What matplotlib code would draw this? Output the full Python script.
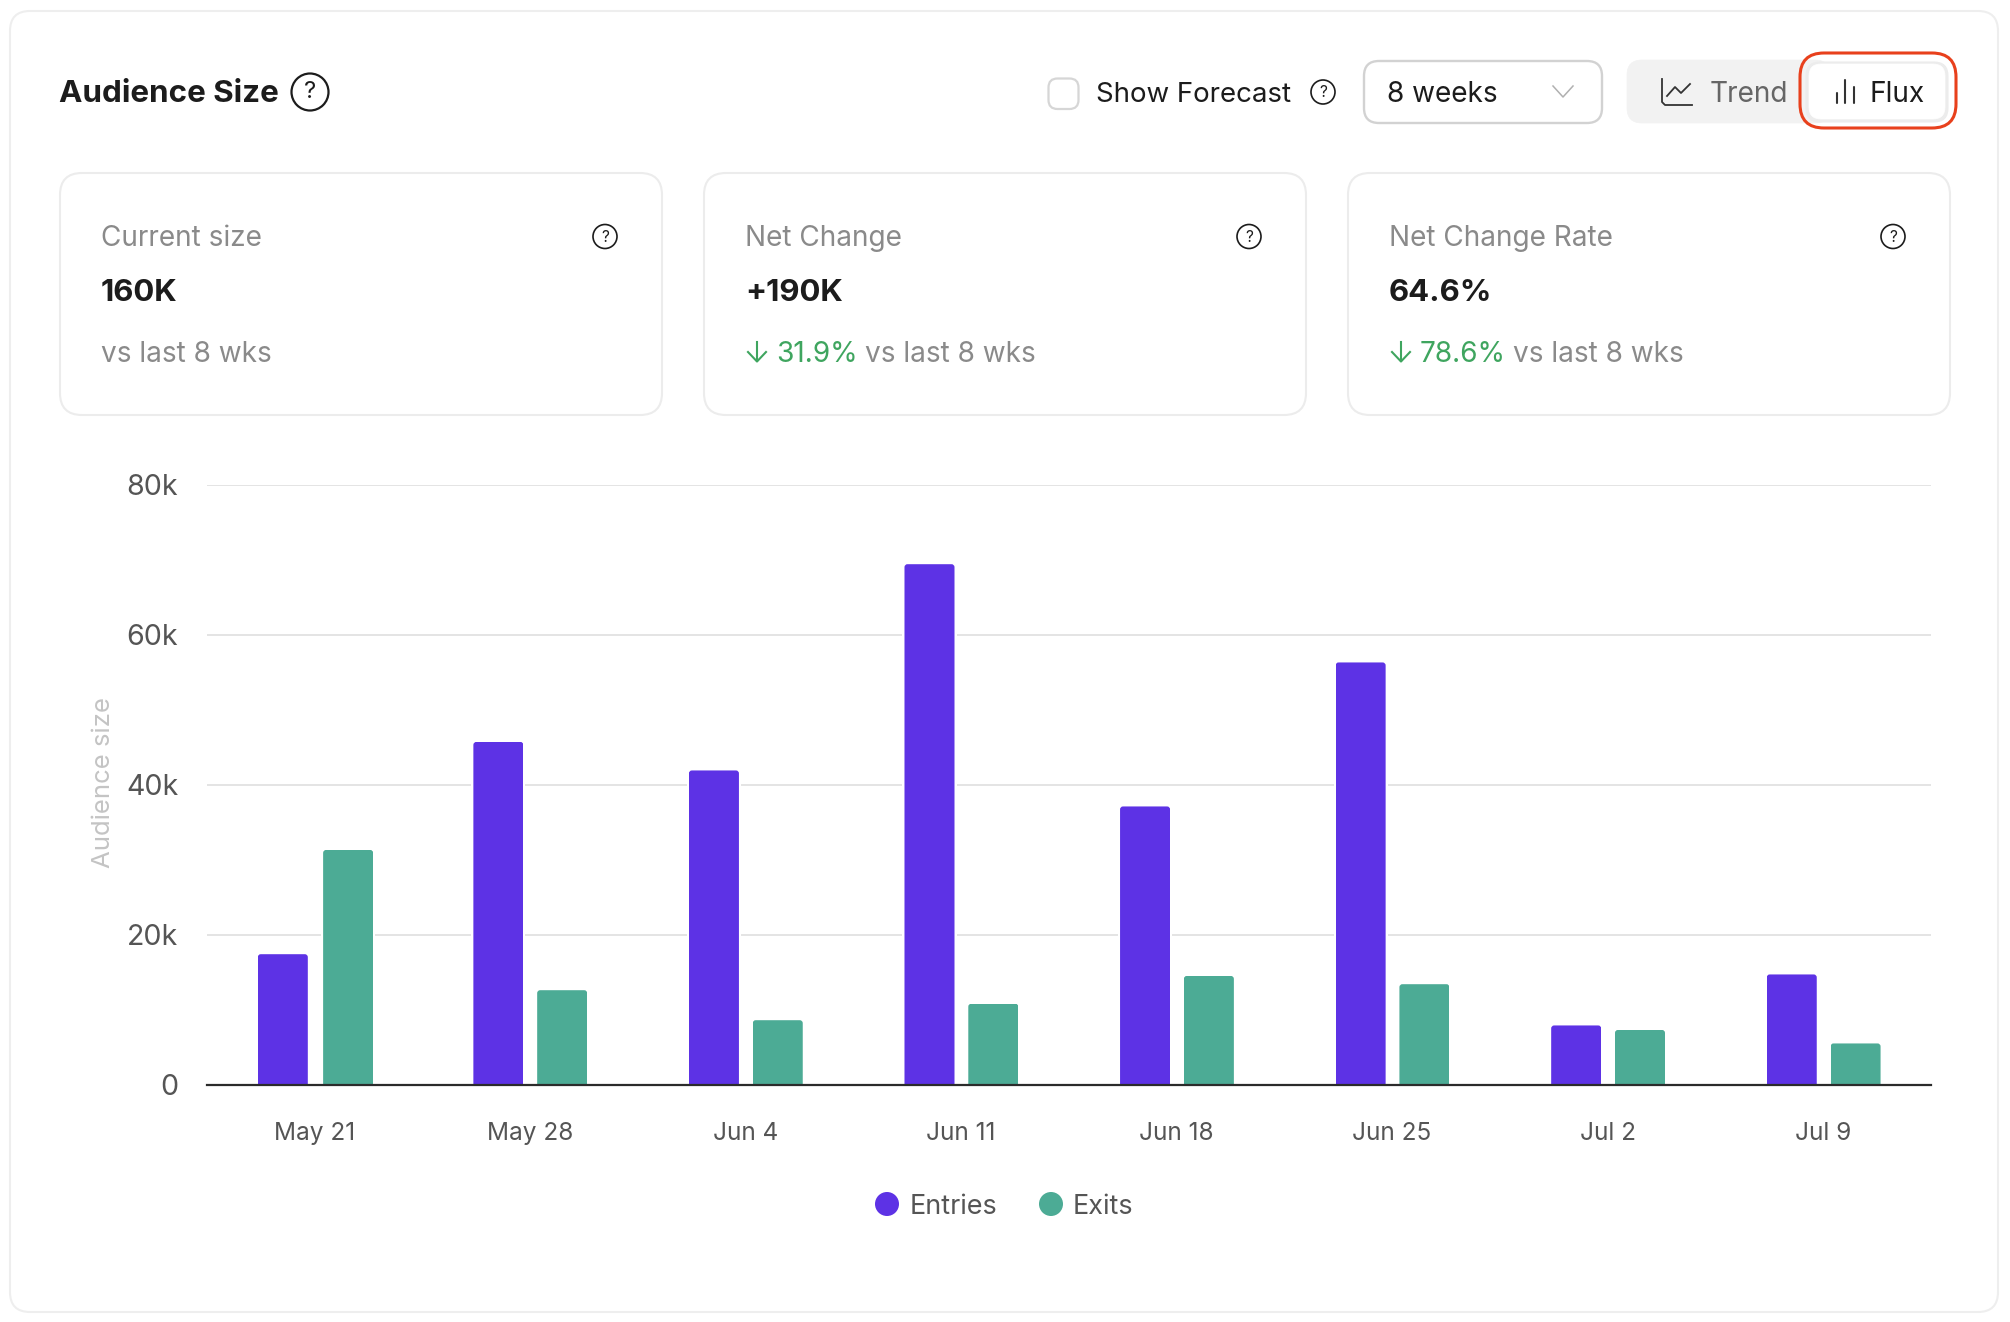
import numpy as np
import matplotlib
matplotlib.use("Agg")
import matplotlib.pyplot as plt
from matplotlib.patches import FancyBboxPatch, Circle
from matplotlib.transforms import IdentityTransform

plt.rcParams['font.family'] = ['Inter', 'DejaVu Sans']

W, H = 2010, 1322

weeks = ['May 21', 'May 28', 'Jun 4', 'Jun 11', 'Jun 18', 'Jun 25', 'Jul 2', 'Jul 9']
entries = [17.4, 45.7, 41.9, 69.4, 37.1, 56.3, 7.9, 14.7]
exits = [31.3, 12.6, 8.6, 10.8, 14.5, 13.4, 7.3, 5.5]
y_ticks = [0, 20, 40, 60, 80]
y_labels = ['0', '20k', '40k', '60k', '80k']

card_titles = ['Current size', 'Net Change', 'Net Change Rate']
card_values = ['160K', '+190K', '64.6%']
card_deltas = ['', '31.9%', '78.6%']

PURPLE = '#5d32e5'
TEAL = '#4cab95'
DARK = '#1c1c1c'
GREY = '#8a8a8a'
MID = '#555555'
GREEN = '#3fa55f'
BORDER = '#ececec'


def px(v):
    # font size in points for a size in pixels
    return v * 72 / 100


fig = plt.figure(figsize=(W / 100, H / 100), dpi=100, facecolor='white')

ui = fig.add_axes([0, 0, 1, 1])
ui.set_xlim(0, W)
ui.set_ylim(H, 0)
ui.axis('off')


def box(x0, y0, x1, y1, r, fc='white', ec=BORDER, lw=1.5, z=1):
    p = FancyBboxPatch((x0 + r, y0 + r), x1 - x0 - 2 * r, y1 - y0 - 2 * r,
                       boxstyle='round,pad=%s,rounding_size=%s' % (r, r),
                       fc=fc, ec=ec, lw=lw, zorder=z)
    ui.add_patch(p)
    return p


def help_icon(x, y, r, lw=1.4):
    ui.add_patch(Circle((x, y), r, fc='white', ec=DARK, lw=lw, zorder=3))
    ui.text(x, y + 0.5, '?', ha='center', va='center', fontsize=px(r * 1.3),
            color=DARK, zorder=4)


def label(x, y, s, size, color=DARK, weight='normal', z=3):
    return ui.text(x, y, s, fontsize=px(size), color=color, fontweight=weight,
                   va='baseline', zorder=z)


# outer card and header
box(10, 11, 1998, 1312, 20, ec='#eeeeee')
label(59, 102, 'Audience Size', 31.4, weight='bold')
help_icon(310, 92, 18.5, lw=1.6)

# header controls
box(1048.5, 78.5, 1078.5, 109, 9, ec='#d6d6d6', lw=1.6)
label(1096, 102, 'Show Forecast', 27.7)
help_icon(1323, 92, 12, lw=1.2)
box(1364, 61, 1602, 123, 15, ec='#d2d2d2', lw=1.7)
label(1387, 102, '8 weeks', 28)
ui.plot([1553, 1563, 1573], [86, 97, 86], color='#b0b0b0', lw=1.1)

box(1627, 60, 1830, 123, 15, fc='#f2f2f2', ec='#f2f2f2', lw=0.5)
ui.plot([1662, 1662, 1665, 1692], [79, 102, 105, 105], color='#333333', lw=1.3)
ui.plot([1667, 1675, 1681, 1690], [96, 87, 93, 84], color='#333333', lw=1.3)
label(1710, 102, 'Trend', 28, color='#666666')

box(1806, 62, 1948, 122, 14, fc='#ececec', ec='#ececec', lw=0.8, z=2)
box(1809, 64, 1945, 119, 12, fc='white', ec='white', lw=0.5, z=2)
for bx, top in zip([1837, 1845, 1854], [93, 80, 87]):
    ui.plot([bx, bx], [top, 103], color='#333333', lw=1.5, zorder=3,
            solid_capstyle='round')
label(1870, 102, 'Flux', 28)
box(1800, 53, 1956, 128, 24, fc='none', ec='#e8401c', lw=2.2, z=4)

# summary cards
fig.canvas.draw()
for i, x0 in enumerate([60, 704, 1348]):
    box(x0, 173, x0 + 602, 415, 22)
    label(x0 + 41, 246, card_titles[i], 28, color=GREY)
    label(x0 + 41, 301, card_values[i], 31.2, weight='bold')
    help_icon(x0 + 545, 236.5, 12, lw=1.2)
    if card_deltas[i]:
        a = x0 + 53
        ui.plot([a, a], [342, 361], color=GREEN, lw=1.5, zorder=3)
        ui.plot([a - 9, a, a + 9], [352, 361.5, 352], color=GREEN, lw=1.5, zorder=3)
        t = label(x0 + 72, 362, card_deltas[i], 28, color=GREEN)
        # the comparison text follows the green figure, whatever its width
        right = t.get_window_extent(fig.canvas.get_renderer()).x1
        label(right + 7, 362, 'vs last 8 wks', 28, color=GREY)
    else:
        label(x0 + 41, 362, 'vs last 8 wks', 28, color=GREY)

# bar chart
L, R, T, B = 206.5, 1931, 484.7, 1084.7
ax = fig.add_axes([L / W, 1 - B / H, (R - L) / W, (B - T) / H])
ax.patch.set_alpha(0)
xs = np.arange(len(weeks))
bar_w = 0.232
off = 0.148
halo = 0.0186
entry_x = xs - off + 0.002
exit_x = xs + off + 0.002
exit_x[0] += 0.007

# white slots behind the bars break the gridlines around them
ax.bar(entry_x, entries, bar_w + halo, color='white', zorder=2)
ax.bar(exit_x, exits, bar_w + halo, color='white', zorder=2)
entry_bars = ax.bar(entry_x, entries, bar_w, color=PURPLE, zorder=3)
exit_bars = ax.bar(exit_x, exits, bar_w, color=TEAL, zorder=3)

ax.set_xlim(-0.5, len(weeks) - 0.5)
ax.set_ylim(0, 80)
ax.set_xticks(xs, weeks)
ax.set_yticks(y_ticks, y_labels)
ax.tick_params(axis='x', length=0, pad=27, labelsize=px(24.4), labelcolor=MID)
ax.tick_params(axis='y', length=0, pad=20.4, labelsize=px(28.6), labelcolor=MID)
ax.grid(axis='y', color='#e2e2e2', lw=1.3, zorder=0)
ax.set_axisbelow(True)
for s in ['top', 'right', 'left']:
    ax.spines[s].set_visible(False)
ax.spines['bottom'].set_color('#2b2b2b')
ax.spines['bottom'].set_linewidth(1.6)
ax.spines['bottom'].set_zorder(5)

# rounded top corners, clipped in display pixels
for bar in list(entry_bars) + list(exit_bars):
    (x0, y0), (x1, y1) = ax.transData.transform([(bar.get_x(), 0),
                                                 (bar.get_x() + bar.get_width(), bar.get_height())])
    clip = FancyBboxPatch((x0 + 3, y0 - 10), x1 - x0 - 6, y1 - y0 + 7,
                          boxstyle='round,pad=3,rounding_size=3',
                          transform=IdentityTransform())
    bar.set_clip_path(clip)

ui.text(103.5, 783, 'Audience size', rotation=90, fontsize=px(25.8), color='#c4c4c4',
        ha='center', va='center')

# legend
ui.add_patch(Circle((887, 1204), 12, fc=PURPLE, ec='none'))
label(910, 1214, 'Entries', 27, color=MID)
ui.add_patch(Circle((1051, 1204), 12, fc=TEAL, ec='none'))
label(1073, 1214, 'Exits', 27, color=MID)

plt.savefig('out.png', dpi=100)
